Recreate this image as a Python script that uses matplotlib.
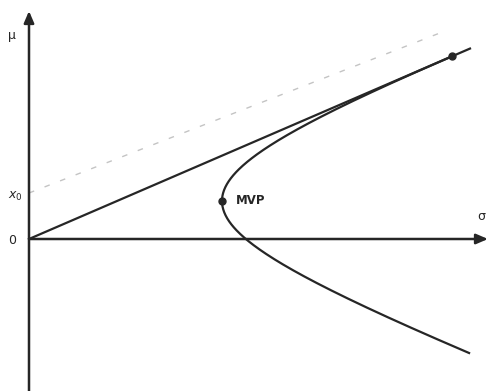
import numpy as np
import matplotlib
matplotlib.use("Agg")
import matplotlib.pyplot as plt

# frontier parameters (sigma, mu units)
mvp_sigma = 1.93
mvp_mu = 0.38
curvature = 6.77          # sigma^2 = mvp_sigma^2 + curvature * (mu - mvp_mu)^2
mu_low = -1.14            # lower end of the frontier
x0_mu = 0.46              # intercept of the dotted line
x0_end = [4.16, 2.08]     # end of the dotted line
line_end_sigma = 4.41     # end of the tangent line from the origin

# tangent from origin to the frontier
slope = np.sqrt((mvp_sigma**2 + curvature * mvp_mu**2) / (curvature * mvp_sigma**2))
tan_mu = -curvature * mvp_mu / (1 / slope**2 - curvature)
tan_sigma = tan_mu / slope

mu = np.linspace(mu_low, tan_mu, 400)
sigma = np.sqrt(mvp_sigma**2 + curvature * (mu - mvp_mu) ** 2)

fig = plt.figure(figsize=(4.89, 3.91), dpi=100)
ax = fig.add_axes([0, 0, 1, 1])
ax.set_xlim(-0.29, 4.60)
ax.set_ylim(-1.52, 2.39)
ax.axis("off")

ink = "#262626"

# axes with arrow heads
ax.annotate("", xy=(4.59, 0), xytext=(0, 0),
            arrowprops=dict(arrowstyle="-|>,head_length=0.7,head_width=0.3",
                            color=ink, lw=1.8, shrinkA=0, shrinkB=0))
ax.annotate("", xy=(0, 2.28), xytext=(0, -1.52),
            arrowprops=dict(arrowstyle="-|>,head_length=0.7,head_width=0.3",
                            color=ink, lw=1.8, shrinkA=0, shrinkB=0))

# dotted line from x0
ax.plot([0, x0_end[0]], [x0_mu, x0_end[1]], color="#c4c4c4", lw=1.0,
        linestyle=(0, (4, 8)))

# tangent line from the origin
ax.plot([0, line_end_sigma], [0, slope * line_end_sigma], color=ink, lw=1.6)

# frontier
ax.plot(sigma, mu, color=ink, lw=1.6)

ax.plot([mvp_sigma], [mvp_mu], "o", color=ink, ms=5)
ax.plot([tan_sigma], [tan_mu], "o", color=ink, ms=5)

ax.text(2.07, 0.38, "MVP", fontsize=8.5, fontweight="bold", va="center", color=ink)
ax.text(-0.21, 2.03, "μ", fontsize=9, va="center", color=ink)
ax.text(-0.21, 0.43, r"$x_0$", fontsize=9, va="center", color=ink)
ax.text(-0.21, -0.01, "0", fontsize=9, va="center", color=ink)
ax.text(4.48, 0.22, "σ", fontsize=9, va="center", color=ink)

fig.savefig("out.png", dpi=100)
